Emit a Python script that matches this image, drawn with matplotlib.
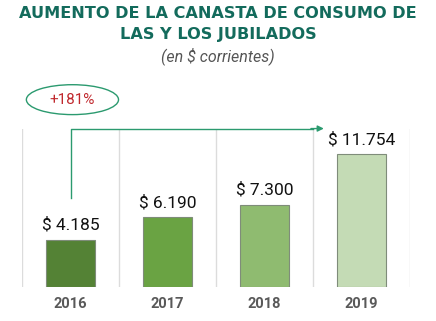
import matplotlib.pyplot as plt
from matplotlib.patches import Ellipse

years = ['2016', '2017', '2018', '2019']
values = [4185, 6190, 7300, 11754]
labels = ['$ 4.185', '$ 6.190', '$ 7.300', '$ 11.754']
colors = ['#548235', '#6aa343', '#8fbb70', '#c4dbb5']
growth = '+181%'

fig = plt.figure(figsize=(4.36, 3.21), dpi=100)
ax = fig.add_axes([22/436, 1-287/321, 388/436, 158/321])

x = range(len(years))
ax.bar(x, values, width=0.51, color=colors, edgecolor='#7f8c7a', linewidth=0.8, zorder=3)
for i, (v, lab) in enumerate(zip(values, labels)):
    ax.annotate(lab, (i, v), xytext=(0, 5), textcoords='offset points',
                ha='center', va='bottom', fontsize=12.5, family='Roboto', color='#111111')

ax.set_xlim(-0.5, 3.5)
ax.set_ylim(0, 14000)
ax.set_yticks([])
ax.set_xticks(list(x))
ax.set_xticklabels(years, fontsize=10.5, fontweight='bold', color='#595959', family='Roboto')
ax.tick_params(axis='x', length=0, pad=7)
for s in ax.spines.values():
    s.set_visible(False)
for xv in [-0.5, 0.5, 1.5, 2.5, 3.5]:
    ax.axvline(xv, color='#dcdcdc', linewidth=1, zorder=1)

# growth arrow
green = '#2b9a6f'
ax.plot([0, 0, 2.5], [7860, 14040, 14040], color=green, linewidth=1, clip_on=False)
ax.annotate('', xy=(2.64, 14040), xytext=(2.45, 14040),
            arrowprops=dict(arrowstyle='-|>', color=green, lw=1, mutation_scale=9),
            annotation_clip=False)
ax.add_patch(Ellipse((0.02, 16600), 0.95, 2650, fill=False, edgecolor=green,
                     linewidth=1, clip_on=False))
ax.text(0.02, 16600, growth, ha='center', va='center', fontsize=11,
        family='Roboto', color='#c0282d', clip_on=False)

fig.text(0.5, 1-13/321, 'AUMENTO DE LA CANASTA DE CONSUMO DE', ha='center', va='center',
         fontsize=11.6, fontweight='black', family='DejaVu Sans', color='#136b5c')
fig.text(0.5, 1-34/321, 'LAS Y LOS JUBILADOS', ha='center', va='center',
         fontsize=11.6, fontweight='black', family='DejaVu Sans', color='#136b5c')
fig.text(0.5, 1-56/321, '(en $ corrientes)', ha='center', va='center',
         fontsize=11.5, style='italic', family='Roboto', color='#555555')

fig.savefig('out.png', dpi=100)
